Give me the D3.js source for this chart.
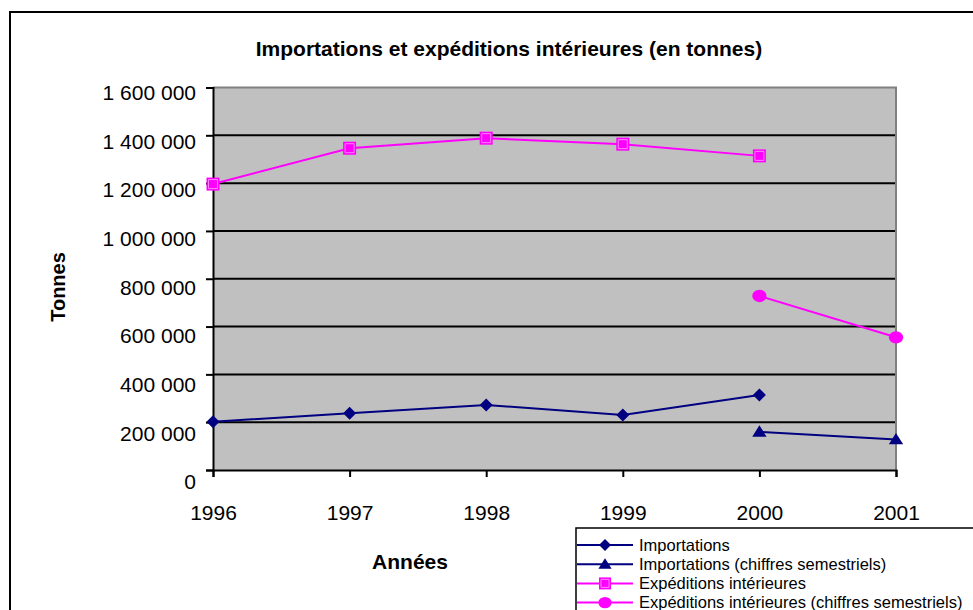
<!DOCTYPE html>
<html>
<head>
<meta charset="UTF-8">
<title>Importations et expéditions intérieures</title>
<script src="https://cdn.jsdelivr.net/npm/d3@7"></script>
<style>
  body { margin: 0; background: #fff; }
  svg { display: block; font-family: Arial, "Liberation Sans", sans-serif; }
</style>
</head>
<body>
<svg id="chart" width="973" height="610"></svg>
<script>
// data
var years = [1996, 1997, 1998, 1999, 2000, 2001];
var yTicks = [0, 200000, 400000, 600000, 800000, 1000000, 1200000, 1400000, 1600000];

var importations = [
  {year: 1996, value: 202000}, {year: 1997, value: 237000}, {year: 1998, value: 272000},
  {year: 1999, value: 230000}, {year: 2000, value: 314000}
];
var importationsSem = [
  {year: 2000, value: 160000}, {year: 2001, value: 128000}
];
var expeditions = [
  {year: 1996, value: 1196000}, {year: 1997, value: 1346000}, {year: 1998, value: 1388000},
  {year: 1999, value: 1363000}, {year: 2000, value: 1314000}
];
var expeditionsSem = [
  {year: 2000, value: 728000}, {year: 2001, value: 555000}
];

var series = [
  {name: "Importations", data: importations, color: "#000080", marker: "diamond"},
  {name: "Importations (chiffres semestriels)", data: importationsSem, color: "#000080", marker: "triangle"},
  {name: "Expéditions intérieures", data: expeditions, color: "#ff00ff", marker: "square"},
  {name: "Expéditions intérieures (chiffres semestriels)", data: expeditionsSem, color: "#ff00ff", marker: "circle"}
];

var svg = d3.select("#chart");

// outer chart frame (runs off the right and bottom edges)
svg.append("rect")
  .attr("x", 10).attr("y", 12)
  .attr("width", 1000).attr("height", 640)
  .attr("fill", "#fff").attr("stroke", "#000").attr("stroke-width", 2);

var x = d3.scaleLinear().domain([1996, 2001]).range([213, 896]);
var y = d3.scaleLinear().domain([0, 1600000]).range([470, 87.5]);

var fr = d3.formatLocale({decimal: ",", thousands: " ", grouping: [3], currency: ["", ""]});
var fmt = fr.format(",d");

// plot area
svg.append("rect")
  .attr("x", x(1996)).attr("y", y(1600000))
  .attr("width", x(2001) - x(1996)).attr("height", y(0) - y(1600000))
  .attr("fill", "#c0c0c0");

// gridlines
svg.append("g").selectAll("line")
  .data(yTicks.filter(function(d) { return d > 0 && d < 1600000; }))
  .enter().append("line")
  .attr("x1", x(1996)).attr("x2", x(2001))
  .attr("y1", function(d) { return y(d); }).attr("y2", function(d) { return y(d); })
  .attr("stroke", "#000").attr("stroke-width", 2);

// top and right border of the plot area
svg.append("path")
  .attr("d", "M" + x(1996) + "," + y(1600000) + "H" + x(2001) + "V" + y(0))
  .attr("fill", "none").attr("stroke", "#808080").attr("stroke-width", 2);

// y axis (labels sit a little below their ticks, as in the original)
var yAxis = svg.append("g")
  .attr("transform", "translate(" + x(1996) + ",0)")
  .call(d3.axisLeft(y).tickValues(yTicks).tickFormat(fmt).tickSize(7).tickPadding(10));
yAxis.select(".domain").attr("stroke-width", 2);
yAxis.selectAll(".tick line").attr("stroke-width", 2);
yAxis.selectAll("text").attr("font-size", 21).attr("fill", "#000")
  .attr("font-family", "Arial, 'Liberation Sans', sans-serif")
  .attr("dy", function(d) { return (0.35 * 21 + 4.5 + 7 * (1 - d / 1600000)) + "px"; });

// x axis
var xAxis = svg.append("g")
  .attr("transform", "translate(0," + y(0) + ")")
  .call(d3.axisBottom(x).tickValues(years).tickFormat(d3.format("d")).tickSize(7).tickPadding(28));
xAxis.select(".domain").attr("stroke-width", 2);
xAxis.selectAll(".tick line").attr("stroke-width", 2);
xAxis.selectAll("text").attr("font-size", 21).attr("fill", "#000")
  .attr("font-family", "Arial, 'Liberation Sans', sans-serif");

// marker shapes
function markerPath(type, s) {
  if (type === "diamond") return "M0," + (-s) + "L" + s + ",0L0," + s + "L" + (-s) + ",0Z";
  if (type === "triangle") return "M0," + (-s) + "L" + (s * 1.1) + "," + (s * 0.75) + "L" + (-s * 1.1) + "," + (s * 0.75) + "Z";
  if (type === "square") return "M" + (-s) + "," + (-s) + "H" + s + "V" + s + "H" + (-s) + "Z";
  return null;
}
function drawMarker(g, type, color, s) {
  if (type === "circle") {
    g.append("ellipse").attr("rx", s * 1.1).attr("ry", s * 0.95).attr("fill", color);
  } else {
    g.append("path").attr("d", markerPath(type, s)).attr("fill", color);
    if (type === "square") {
      g.append("path").attr("d", markerPath(type, s - 2)).attr("fill", "none")
        .attr("stroke", "#ff80ff").attr("stroke-width", 1);
    }
  }
}

var line = d3.line()
  .x(function(d) { return x(d.year); })
  .y(function(d) { return y(d.value); });

series.forEach(function(s) {
  svg.append("path").datum(s.data)
    .attr("d", line)
    .attr("fill", "none").attr("stroke", s.color).attr("stroke-width", 2);
  svg.append("g").selectAll("g")
    .data(s.data)
    .enter().append("g")
    .attr("transform", function(d) { return "translate(" + x(d.year) + "," + y(d.value) + ")"; })
    .each(function() { drawMarker(d3.select(this), s.marker, s.color, 6.5); });
});

// titles
svg.append("text")
  .attr("x", 509).attr("y", 56)
  .attr("text-anchor", "middle")
  .attr("font-size", 21).attr("font-weight", "bold")
  .text("Importations et expéditions intérieures (en tonnes)");

svg.append("text")
  .attr("transform", "translate(65,287) rotate(-90)")
  .attr("text-anchor", "middle")
  .attr("font-size", 20).attr("font-weight", "bold")
  .text("Tonnes");

svg.append("text")
  .attr("x", 410).attr("y", 569)
  .attr("text-anchor", "middle")
  .attr("font-size", 21).attr("font-weight", "bold")
  .text("Années");

// legend
var legend = svg.append("g").attr("transform", "translate(576,528)");
legend.append("rect")
  .attr("width", 420).attr("height", 120)
  .attr("fill", "#fff").attr("stroke", "#000").attr("stroke-width", 1.5);

var items = legend.selectAll("g.item")
  .data(series)
  .enter().append("g")
  .attr("class", "item")
  .attr("transform", function(d, i) { return "translate(0," + (17 + i * 19.2) + ")"; });

items.append("line")
  .attr("x1", 1).attr("x2", 57)
  .attr("stroke", function(d) { return d.color; }).attr("stroke-width", 2);
items.each(function(d) {
  var g = d3.select(this).append("g").attr("transform", "translate(29,0)");
  drawMarker(g, d.marker, d.color, 6);
});
items.append("text")
  .attr("x", 63).attr("dy", "0.35em")
  .attr("font-size", 16.5)
  .text(function(d) { return d.name; });
</script>
</body>
</html>
